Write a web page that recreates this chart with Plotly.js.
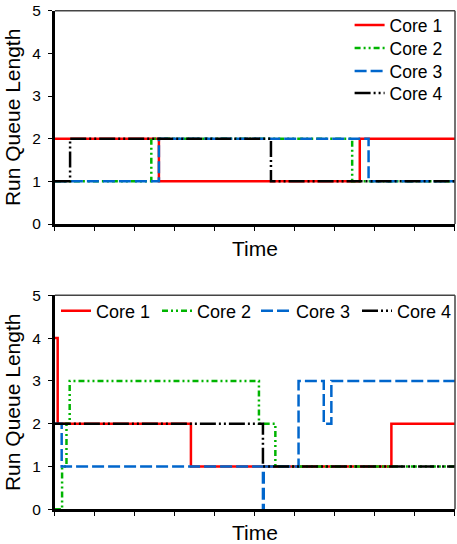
<!DOCTYPE html>
<html>
<head>
<meta charset="utf-8">
<script src="https://cdn.plot.ly/plotly-3.0.1.min.js"></script>
<style>html,body{margin:0;padding:0;background:#fff;}#chart{width:457px;height:544px;}</style>
</head>
<body>
<div id="chart"></div>
<script>
// ---- Data ----
var coreNames = ["Core 1", "Core 2", "Core 3", "Core 4"];

// Top panel: step changes (time, run queue length)
var top1X = [0, 2.6, 7.62, 10];
var top1Y = [2, 1, 2, 2];
var top2X = [0, 2.41, 7.43, 10];
var top2Y = [1, 2, 1, 1];
var top3X = [0, 2.6, 7.84, 10];
var top3Y = [1, 2, 1, 1];
var top4X = [0, 0.38, 5.4, 10];
var top4Y = [1, 2, 1, 1];

// Bottom panel
var bot1X = [0, 0.07, 3.4, 8.41, 10];
var bot1Y = [4, 2, 1, 2, 2];
var bot2X = [0, 0.18, 0.29, 0.37, 5.1, 5.51, 10];
var bot2Y = [0, 1, 2, 3, 2, 1, 1];
var bot3X = [0, 0.17, 5.2, 5.22, 6.09, 6.72, 6.91, 10];
var bot3Y = [2, 1, 0, 1, 3, 2, 3, 3];
var bot4X = [0, 5.2, 10];
var bot4Y = [2, 1, 1];

var xTicks = [0, 1, 2, 3, 4, 5, 6, 7, 8, 9, 10];
var yTicks = [0, 1, 2, 3, 4, 5];

// ---- Styles ----
var FONT = "Liberation Sans, Arial, sans-serif";
var styles = [
  {color: "#ff0000", dash: "solid"},
  {color: "#00b400", dash: "6px,3px,2px,3px,2px,3px"},
  {color: "#0066cc", dash: "12px,4px"},
  {color: "#000000", dash: "16px,3px,2px,3px,2px,3px"}
];

function tr(x, y, i, xa, ya, leg) {
  return {
    x: x, y: y, name: coreNames[i], type: "scatter", mode: "lines",
    line: {shape: "hv", color: styles[i].color, dash: styles[i].dash, width: 2.5},
    xaxis: xa, yaxis: ya, legend: leg, hoverinfo: "skip"
  };
}

// one legend box per entry so the entry spacing matches the reference
var data = [
  tr(top1X, top1Y, 0, "x", "y", "legend"),
  tr(top2X, top2Y, 1, "x", "y", "legend3"),
  tr(top3X, top3Y, 2, "x", "y", "legend4"),
  tr(top4X, top4Y, 3, "x", "y", "legend5"),
  tr(bot1X, bot1Y, 0, "x2", "y2", "legend2"),
  tr(bot2X, bot2Y, 1, "x2", "y2", "legend6"),
  tr(bot3X, bot3Y, 2, "x2", "y2", "legend7"),
  tr(bot4X, bot4Y, 3, "x2", "y2", "legend8")
];

var W = 457, H = 544;
var xDom = [55 / W, 456 / W];
var yDomTop = [(H - 224) / H, (H - 10.7) / H];
var yDomBot = [(H - 509.3) / H, (H - 295.3) / H];

function xAxis(anchor) {
  return {
    domain: xDom, anchor: anchor, range: [0, 10], tickvals: xTicks,
    showticklabels: false, ticks: "outside", ticklen: 4, tickwidth: 1, tickcolor: "#000",
    showline: true, linecolor: "#000", linewidth: 3, showgrid: false, zeroline: false,
    fixedrange: true,
    title: {text: "Time", font: {family: FONT, size: 21, color: "#000"}, standoff: 12}
  };
}
function yAxis(anchor, dom) {
  return {
    domain: dom, anchor: anchor, range: [0, 5], tickvals: yTicks,
    ticks: "outside", ticklen: 4, tickwidth: 1, tickcolor: "#000",
    ticklabelstandoff: 4,
    tickfont: {family: FONT, size: 15.5, color: "#000"},
    showline: true, linecolor: "#000", linewidth: 3, showgrid: false, zeroline: false,
    fixedrange: true,
    title: {text: "Run Queue Length", font: {family: FONT, size: 21, color: "#000"}, standoff: 6}
  };
}

function frame(xr, yr) {
  return [
    {type: "line", xref: xr + " domain", yref: yr + " domain", x0: 0, x1: 1, y0: 1, y1: 1,
     line: {color: "#444", width: 1.5}},
    {type: "line", xref: xr + " domain", yref: yr + " domain", x0: 1, x1: 1, y0: 0, y1: 1,
     line: {color: "#444", width: 1.5}}
  ];
}

function leg(leftPx, topPx, size) {
  return {
    x: leftPx / W, y: 1 - topPx / H, xanchor: "left", yanchor: "top",
    orientation: "v", bgcolor: "rgba(0,0,0,0)", borderwidth: 0,
    font: {family: FONT, size: size, color: "#000"}
  };
}

var layout = {
  width: W, height: H,
  margin: {l: 0, r: 0, t: 0, b: 0},
  paper_bgcolor: "#fff", plot_bgcolor: "#fff",
  font: {family: FONT, color: "#000"},
  xaxis: xAxis("y"),
  yaxis: yAxis("x", yDomTop),
  xaxis2: xAxis("y2"),
  yaxis2: yAxis("x2", yDomBot),
  legend: leg(349.6, 7, 17.5),
  legend3: leg(349.6, 30, 17.5),
  legend4: leg(349.6, 53, 17.5),
  legend5: leg(349.6, 75, 17.5),
  legend2: leg(56, 292.5, 18),
  legend6: leg(157, 292.5, 18),
  legend7: leg(256, 292.5, 18),
  legend8: leg(358, 292.5, 18),
  shapes: frame("x", "y").concat(frame("x2", "y2")),
  showlegend: true
};

Plotly.newPlot("chart", data, layout, {staticPlot: true, displayModeBar: false});
</script>
</body>
</html>
